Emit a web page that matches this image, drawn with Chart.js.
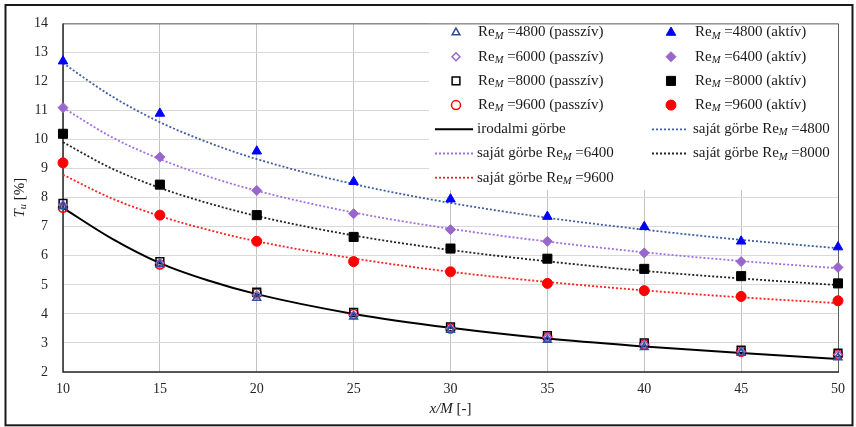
<!DOCTYPE html>
<html>
<head>
<meta charset="utf-8">
<script src="https://cdn.jsdelivr.net/npm/chart.js@4.4.0/dist/chart.umd.min.js"></script>
<style>
  html, body { margin: 0; padding: 0; background: #fff; }
  canvas { display: block; }
</style>
</head>
<body>
<canvas id="chart" width="856" height="427"></canvas>
<script>
// measured x positions (x/M) and the x samples used for the smooth curves
const xPoints = [10, 15, 20, 25, 30, 35, 40, 45, 50];
const curveX = [10, 12.5, 15, 17.5, 20, 25, 30, 35, 40, 45, 50];

// passive measurements
const passive4800 = [7.7, 5.7, 4.55, 3.9, 3.45, 3.1, 2.85, 2.65, 2.5];
const passive6000 = [7.75, 5.75, 4.65, 3.95, 3.5, 3.2, 2.95, 2.7, 2.6];
const passive8000 = [7.8, 5.8, 4.75, 4.05, 3.55, 3.25, 3.0, 2.75, 2.65];
const passive9600 = [7.65, 5.7, 4.7, 4.0, 3.5, 3.2, 2.95, 2.7, 2.6];

// active measurements
const active4800 = [12.7, 10.9, 9.6, 8.55, 7.95, 7.35, 7.0, 6.5, 6.3];
const active6400 = [11.1, 9.4, 8.25, 7.45, 6.9, 6.5, 6.1, 5.8, 5.6];
const active8000 = [10.2, 8.45, 7.4, 6.65, 6.25, 5.9, 5.55, 5.3, 5.05];
const active9600 = [9.2, 7.4, 6.5, 5.8, 5.45, 5.05, 4.8, 4.6, 4.45];

// curves at curveX
const literatureCurve = [7.65, 6.6, 5.75, 5.15, 4.68, 4.0, 3.52, 3.15, 2.88, 2.65, 2.45];
const fit4800 = [12.63, 11.5, 10.6, 9.9, 9.33, 8.47, 7.82, 7.31, 6.9, 6.55, 6.26];
const fit6400 = [11.1, 10.09, 9.33, 8.73, 8.24, 7.49, 6.93, 6.49, 6.12, 5.82, 5.57];
const fit8000 = [9.91, 9.01, 8.34, 7.81, 7.37, 6.7, 6.2, 5.81, 5.48, 5.22, 4.99];
const fit9600 = [8.79, 7.98, 7.37, 6.89, 6.5, 5.91, 5.45, 5.1, 4.81, 4.57, 4.37];

const xMin = 10, xMax = 50, xStep = 5;
const yMin = 2, yMax = 14, yStep = 1;

const FONT = '"Liberation Serif", "Times New Roman", serif';

const toXY = (xs, ys) => xs.map((x, i) => ({ x, y: ys[i] }));

function markerSet(label, values, style, radius, color, filled) {
  return {
    label,
    data: toXY(xPoints, values),
    showLine: false,
    pointStyle: style,
    pointRadius: radius,
    pointHoverRadius: radius,
    pointBorderWidth: filled ? 1 : 1.5,
    pointBorderColor: color,
    pointBackgroundColor: filled ? color : 'rgba(0,0,0,0)',
    borderColor: color,
    backgroundColor: filled ? color : 'rgba(0,0,0,0)',
    clip: false
  };
}

function curveSet(label, values, color, dashed) {
  return {
    label,
    data: toXY(curveX, values),
    showLine: true,
    pointRadius: 0,
    borderColor: color,
    backgroundColor: color,
    borderWidth: dashed ? 1.8 : 2,
    borderDash: dashed ? [2, 2] : [],
    cubicInterpolationMode: 'monotone',
    clip: false
  };
}

const datasets = [
  markerSet('Re_M =4800 (passzív)', passive4800, 'triangle', 4.5, '#2f4f9f', false),
  markerSet('Re_M =4800 (aktív)', active4800, 'triangle', 5.5, '#0000ff', true),
  markerSet('Re_M =6000 (passzív)', passive6000, 'rectRot', 4, '#9966cc', false),
  markerSet('Re_M =6400 (aktív)', active6400, 'rectRot', 5, '#9966cc', true),
  markerSet('Re_M =8000 (passzív)', passive8000, 'rect', 5.5, '#000000', false),
  markerSet('Re_M =8000 (aktív)', active8000, 'rect', 6.4, '#000000', true),
  markerSet('Re_M =9600 (passzív)', passive9600, 'circle', 4.5, '#ff0000', false),
  markerSet('Re_M =9600 (aktív)', active9600, 'circle', 5, '#ff0000', true),
  curveSet('irodalmi görbe', literatureCurve, '#000000', false),
  curveSet('saját görbe Re_M =4800', fit4800, '#3f5f9f', true),
  curveSet('saját görbe Re_M =6400', fit6400, '#a070e0', true),
  curveSet('saját görbe Re_M =8000', fit8000, '#222222', true),
  curveSet('saját görbe Re_M =9600', fit9600, '#ff2020', true)
];

// split "Re_M" into Re + italic subscript M
function richParts(label) {
  const parts = [];
  const pieces = label.split('Re_M');
  pieces.forEach((p, i) => {
    if (p) parts.push({ t: p });
    if (i < pieces.length - 1) {
      parts.push({ t: 'Re' });
      parts.push({ t: 'M', italic: true, sub: true });
    }
  });
  return parts;
}

function richWidth(ctx, parts, size) {
  let w = 0;
  parts.forEach(p => {
    const s = p.sub ? size * 0.7 : size;
    ctx.font = (p.italic ? 'italic ' : '') + s + 'px ' + FONT;
    w += ctx.measureText(p.t).width;
  });
  return w;
}

function drawRich(ctx, parts, x, y, size) {
  let cx = x;
  parts.forEach(p => {
    const s = p.sub ? size * 0.7 : size;
    ctx.font = (p.italic ? 'italic ' : '') + s + 'px ' + FONT;
    ctx.fillText(p.t, cx, y + (p.sub ? size * 0.22 : 0));
    cx += ctx.measureText(p.t).width;
  });
}

const chartDecor = {
  id: 'chartDecor',
  beforeDatasetsDraw(chart) {
    const { ctx, chartArea: a } = chart;
    ctx.save();
    // legend background hides the grid under it
    ctx.fillStyle = '#ffffff';
    ctx.fillRect(429, a.top, a.right - 429, 190 - a.top);
    // plot frame
    ctx.strokeStyle = '#606060';
    ctx.lineWidth = 1;
    ctx.beginPath();
    ctx.moveTo(a.left, a.top + 0.5);
    ctx.lineTo(a.right + 0.5, a.top + 0.5);
    ctx.lineTo(a.right + 0.5, a.bottom);
    ctx.stroke();
    ctx.strokeStyle = '#262626';
    ctx.lineWidth = 1.5;
    ctx.beginPath();
    ctx.moveTo(a.left, a.top);
    ctx.lineTo(a.left, a.bottom);
    ctx.lineTo(a.right + 1, a.bottom);
    ctx.stroke();
    ctx.restore();
  },
  afterDatasetsDraw(chart) {
    const { ctx } = chart;
    const colMarker = [456, 671];
    const colText = [478, 695];
    const lineSeg = [[435, 473], [652, 687]];
    const rowY0 = 32.5, rowH = 24.2;
    ctx.save();
    ctx.textBaseline = 'middle';
    ctx.fillStyle = '#1a1a1a';
    chart.data.datasets.forEach((ds, i) => {
      const col = i % 2;
      const row = Math.floor(i / 2);
      const y = rowY0 + row * rowH;
      let tx = colText[col];
      if (ds.showLine) {
        ctx.strokeStyle = ds.borderColor;
        ctx.lineWidth = ds.borderWidth;
        ctx.setLineDash(ds.borderDash);
        ctx.beginPath();
        ctx.moveTo(lineSeg[col][0], y);
        ctx.lineTo(lineSeg[col][1], y);
        ctx.stroke();
        ctx.setLineDash([]);
        tx = lineSeg[col][1] + (col === 0 ? 4 : 6);
      } else {
        ctx.strokeStyle = ds.pointBorderColor;
        ctx.fillStyle = ds.pointBackgroundColor;
        ctx.lineWidth = ds.pointBorderWidth;
        const r = ds.pointRadius;
        Chart.helpers.drawPoint(ctx, {
          pointStyle: ds.pointStyle,
          radius: r,
          rotation: 0,
          borderWidth: ds.pointBorderWidth
        }, colMarker[col], y);
      }
      ctx.fillStyle = '#1a1a1a';
      drawRich(ctx, richParts(ds.label), tx, y, 15);
    });
    ctx.restore();
  },
  afterDraw(chart) {
    const { ctx, chartArea: a } = chart;
    ctx.save();
    ctx.fillStyle = '#1a1a1a';
    ctx.textBaseline = 'middle';
    // x axis title
    const xParts = [{ t: 'x/M', italic: true }, { t: ' [-]' }];
    const xw = richWidth(ctx, xParts, 15);
    drawRich(ctx, xParts, (a.left + a.right) / 2 - xw / 2, 409, 15);
    // y axis title
    const yParts = [{ t: 'T', italic: true }, { t: 'u', italic: true, sub: true }, { t: ' [%]' }];
    const yw = richWidth(ctx, yParts, 15);
    ctx.translate(20, (a.top + a.bottom) / 2);
    ctx.rotate(-Math.PI / 2);
    drawRich(ctx, yParts, -yw / 2, 0, 15);
    ctx.setTransform(1, 0, 0, 1, 0, 0);
    // outer frame
    ctx.strokeStyle = '#1a1a1a';
    ctx.lineWidth = 2;
    ctx.strokeRect(5.5, 5, 847, 420.3);
    ctx.restore();
  }
};

new Chart(document.getElementById('chart'), {
  type: 'scatter',
  data: { datasets },
  options: {
    responsive: false,
    animation: false,
    events: [],
    layout: { padding: { left: 0, right: 18, top: 16, bottom: 0 } },
    plugins: {
      legend: { display: false },
      tooltip: { enabled: false }
    },
    scales: {
      x: {
        type: 'linear',
        min: xMin,
        max: xMax,
        afterFit: s => { s.height = 55; },
        ticks: {
          stepSize: xStep,
          padding: 9,
          color: '#262626',
          font: { family: FONT, size: 14 }
        },
        grid: { color: '#c4c4c4', lineWidth: 1, drawTicks: false },
        border: { display: false }
      },
      y: {
        type: 'linear',
        min: yMin,
        max: yMax,
        afterFit: s => { s.width = 63; },
        ticks: {
          stepSize: yStep,
          padding: 15,
          color: '#262626',
          font: { family: FONT, size: 14 }
        },
        grid: { color: '#d9d9d9', lineWidth: 1, drawTicks: false },
        border: { display: false }
      }
    }
  },
  plugins: [chartDecor]
});
</script>
</body>
</html>
